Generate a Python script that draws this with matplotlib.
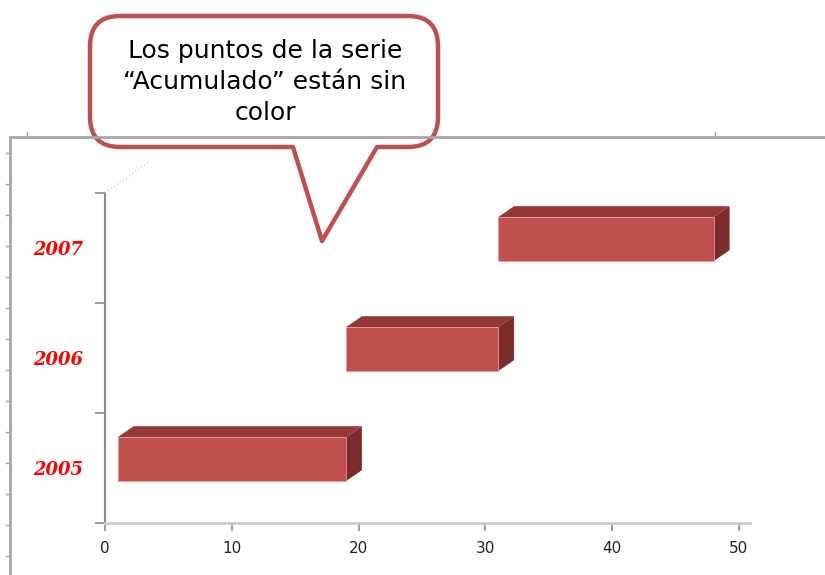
import matplotlib
matplotlib.use("Agg")
import matplotlib.pyplot as plt
import matplotlib.patches as mp
from matplotlib.path import Path

# waterfall-style data: "Acumulado" is the hidden offset series
years = ["2005", "2006", "2007"]
acumulado = [1, 19, 31]
valores = [18, 12, 17]
x_ticks = [0, 10, 20, 30, 40, 50]

front_c = "#C0504D"
top_c = "#953735"
side_c = "#7B2C2B"

W, H = 825, 575
fig = plt.figure(figsize=(W / 100, H / 100), dpi=100)

# main chart area, placed in pixel units
ax = fig.add_axes([105 / W, (H - 523) / H, 645 / W, 330 / H])
ax.set_xlim(0, 50.87)
ax.set_ylim(0, 3)

bar_h = 0.4
ypos = [i + 0.58 for i in range(len(years))]
depth_x, depth_y = 1.26, 0.1

# invisible series (no fill)
ax.barh(ypos, acumulado, height=bar_h, fill=False, linewidth=0)
bars = ax.barh(ypos, valores, left=acumulado, height=bar_h,
               color=front_c, edgecolor="#e29a98", linewidth=0.6, zorder=3)

for b in bars:
    x0, y0 = b.get_x(), b.get_y()
    x1, y1 = x0 + b.get_width(), y0 + b.get_height()
    top = mp.Polygon([(x0, y1), (x1, y1), (x1 + depth_x, y1 + depth_y),
                      (x0 + depth_x, y1 + depth_y)],
                     closed=True, facecolor=top_c, edgecolor="none", zorder=2)
    side = mp.Polygon([(x1, y0), (x1 + depth_x, y0 + depth_y),
                       (x1 + depth_x, y1 + depth_y), (x1, y1)],
                      closed=True, facecolor=side_c, edgecolor="none", zorder=2)
    ax.add_patch(top)
    ax.add_patch(side)

for s in ["top", "right"]:
    ax.spines[s].set_visible(False)
ax.spines["left"].set_color("#8c8c8c")
ax.spines["left"].set_linewidth(1.5)
ax.spines["bottom"].set_color("#cccccc")
ax.spines["bottom"].set_linewidth(2)

ax.set_xticks(x_ticks)
ax.set_xticklabels([str(v) for v in x_ticks], fontsize=11, color="#222222")
ax.tick_params(axis="x", length=6, width=1.2, color="#8c8c8c", pad=7)

ax.set_yticks([0, 1, 2, 3])
ax.set_yticklabels([])
ax.tick_params(axis="y", which="major", length=7, width=1.2, color="#8c8c8c")
ax.set_yticks([i + 0.5 for i in range(len(years))], minor=True)
ax.set_yticklabels(years, minor=True, fontsize=13, color="red",
                   family="DejaVu Serif", fontweight="bold", fontstyle="italic")
ax.tick_params(axis="y", which="minor", length=0, pad=16)

# overlay in pixel coordinates for frame and callout
ov = fig.add_axes([0, 0, 1, 1], facecolor="none")
ov.set_xlim(0, W)
ov.set_ylim(H, 0)
ov.axis("off")

frame_c = "#a6a6a6"
ov.plot([10, 10], [137, H], color=frame_c, lw=2)
ov.plot([10, W], [137, 137], color=frame_c, lw=2)
for y in range(153, H, 31):
    ov.plot([6, 10], [y, y], color=frame_c, lw=1)
for x in [27, 715]:
    ov.plot([x, x], [132, 137], color=frame_c, lw=1)

# faint back-wall edge
ov.plot([105, 150], [193, 161], color="#d0d0d0", lw=1, ls=":")

# speech bubble
L, R, T, B, r = 90, 438, 16, 147, 30
bx1, bx2, tip = 293, 377, (322, 241)
verts = [
    (L + r, T), (R - r, T), (R, T), (R, T + r), (R, B - r), (R, B), (R - r, B),
    (bx2, B), tip, (bx1, B), (L + r, B), (L, B), (L, B - r), (L, T + r),
    (L, T), (L + r, T), (L + r, T),
]
codes = [
    Path.MOVETO, Path.LINETO, Path.CURVE3, Path.CURVE3, Path.LINETO,
    Path.CURVE3, Path.CURVE3, Path.LINETO, Path.LINETO, Path.LINETO,
    Path.LINETO, Path.CURVE3, Path.CURVE3, Path.LINETO, Path.CURVE3,
    Path.CURVE3, Path.CLOSEPOLY,
]
ov.add_patch(mp.PathPatch(Path(verts, codes), facecolor="white",
                          edgecolor=front_c, lw=3.2, joinstyle="round"))
ov.text(265, 82, "Los puntos de la serie\n\u201cAcumulado\u201d están sin\ncolor",
        ha="center", va="center", fontsize=18, linespacing=1.35, color="black")

fig.savefig("out.png", dpi=100)
